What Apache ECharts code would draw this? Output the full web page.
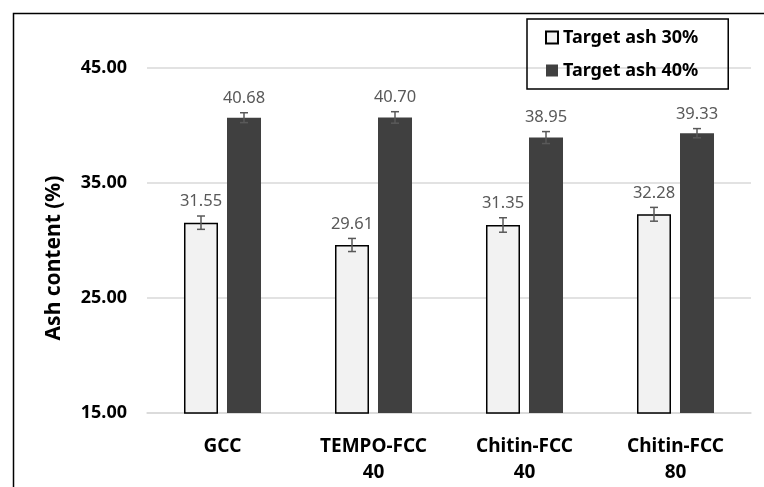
<!DOCTYPE html>
<html>
<head>
<meta charset="utf-8">
<script src="https://cdn.jsdelivr.net/npm/echarts@6/dist/echarts.min.js"></script>
<style>
  html, body { margin: 0; padding: 0; background: #fff; }
  #chart { width: 764px; height: 487px; }
</style>
</head>
<body>
<div id="chart"></div>
<script>
// Sample groups on the x axis
const categories = ['GCC', 'TEMPO-FCC\n40', 'Chitin-FCC\n40', 'Chitin-FCC\n80'];
// Measured ash content (%) for each ash target
const ash30 = [31.55, 29.61, 31.35, 32.28];
const ash40 = [40.68, 40.70, 38.95, 39.33];
// Standard deviations shown as error bars
const err30 = [0.58, 0.57, 0.63, 0.60];
const err40 = [0.43, 0.50, 0.52, 0.40];
// Value axis ticks
const yTicks = [15, 25, 35, 45];

const FONT = '"Noto Sans", "Open Sans", sans-serif';
const BAR_W = 34;
const BAR_GAP = 9;

const chart = echarts.init(document.getElementById('chart'), null, { renderer: 'canvas' });

// Error bar + value label drawn for one series, shifted to its bar slot
function errorSeries(values, errs, shift) {
  return {
    type: 'custom',
    silent: true,
    z: 10,
    data: values.map((v, i) => [i, v, errs[i]]),
    renderItem: function (params, api) {
      const i = api.value(0), v = api.value(1), e = api.value(2);
      const base = api.coord([i, v]);
      const x = base[0] + shift;
      const yHi = api.coord([i, v + e])[1];
      const yLo = api.coord([i, v - e])[1];
      const cap = 4;
      const stroke = { stroke: '#595959', lineWidth: 1.5 };
      return {
        type: 'group',
        children: [
          { type: 'line', shape: { x1: x, y1: yHi, x2: x, y2: yLo }, style: stroke },
          { type: 'line', shape: { x1: x - cap, y1: yHi, x2: x + cap, y2: yHi }, style: stroke },
          { type: 'line', shape: { x1: x - cap, y1: yLo, x2: x + cap, y2: yLo }, style: stroke },
          {
            type: 'text',
            x: x, y: yHi - 6,
            style: {
              text: v.toFixed(2),
              fill: '#595959',
              font: '16.5px ' + FONT,
              align: 'center',
              verticalAlign: 'bottom'
            }
          }
        ]
      };
    }
  };
}

const shift = (BAR_W + BAR_GAP) / 2;

chart.setOption({
  animation: false,
  backgroundColor: '#fff',
  grid: { left: 147, right: 13, top: 68, bottom: 74, containLabel: false, outerBoundsMode: 'none' },
  legend: {
    orient: 'vertical',
    left: 527,
    top: 19,
    padding: [8, 30, 8, 18],
    itemGap: 12,
    itemWidth: 12,
    itemHeight: 12,
    borderColor: '#000',
    borderWidth: 1.5,
    icon: 'rect',
    data: ['Target ash 30%', 'Target ash 40%'],
    textStyle: { fontFamily: FONT, fontWeight: 'bold', fontSize: 18, lineHeight: 21, color: '#000' }
  },
  xAxis: {
    type: 'category',
    data: categories,
    axisLine: { show: true, lineStyle: { color: '#d9d9d9', width: 1.5 } },
    axisTick: { show: false },
    axisLabel: {
      margin: 21,
      fontFamily: FONT, fontWeight: 'bold', fontSize: 19, color: '#000',
      lineHeight: 26, interval: 0
    }
  },
  yAxis: {
    type: 'value',
    min: yTicks[0],
    max: yTicks[yTicks.length - 1],
    interval: 10,
    axisLine: { show: false },
    axisTick: { show: false },
    splitLine: { lineStyle: { color: '#d9d9d9', width: 1.5 } },
    axisLabel: {
      margin: 20,
      fontFamily: FONT, fontWeight: 'bold', fontSize: 18, color: '#000',
      formatter: v => v.toFixed(2)
    }
  },
  series: [
    {
      name: 'Target ash 30%',
      type: 'bar',
      data: ash30,
      barWidth: BAR_W,
      barGap: (BAR_GAP / BAR_W * 100).toFixed(1) + '%',
      itemStyle: { color: '#f2f2f2', borderColor: '#000', borderWidth: 1.5 }
    },
    {
      name: 'Target ash 40%',
      type: 'bar',
      data: ash40,
      barWidth: BAR_W,
      itemStyle: { color: '#404040' }
    },
    errorSeries(ash30, err30, -shift),
    errorSeries(ash40, err40, shift)
  ],
  graphic: [
    {
      // outer frame of the figure
      type: 'rect',
      left: 11, top: 11,
      shape: { width: 900, height: 600 },
      style: { fill: 'none', stroke: '#000', lineWidth: 1.5 },
      z: 100, silent: true
    },
    {
      // value axis title
      type: 'text',
      x: 54, y: 258,
      rotation: Math.PI / 2,
      style: {
        text: 'Ash content (%)',
        font: 'bold 21px ' + FONT,
        fill: '#000',
        align: 'center',
        verticalAlign: 'middle'
      },
      silent: true
    }
  ]
});
</script>
</body>
</html>
